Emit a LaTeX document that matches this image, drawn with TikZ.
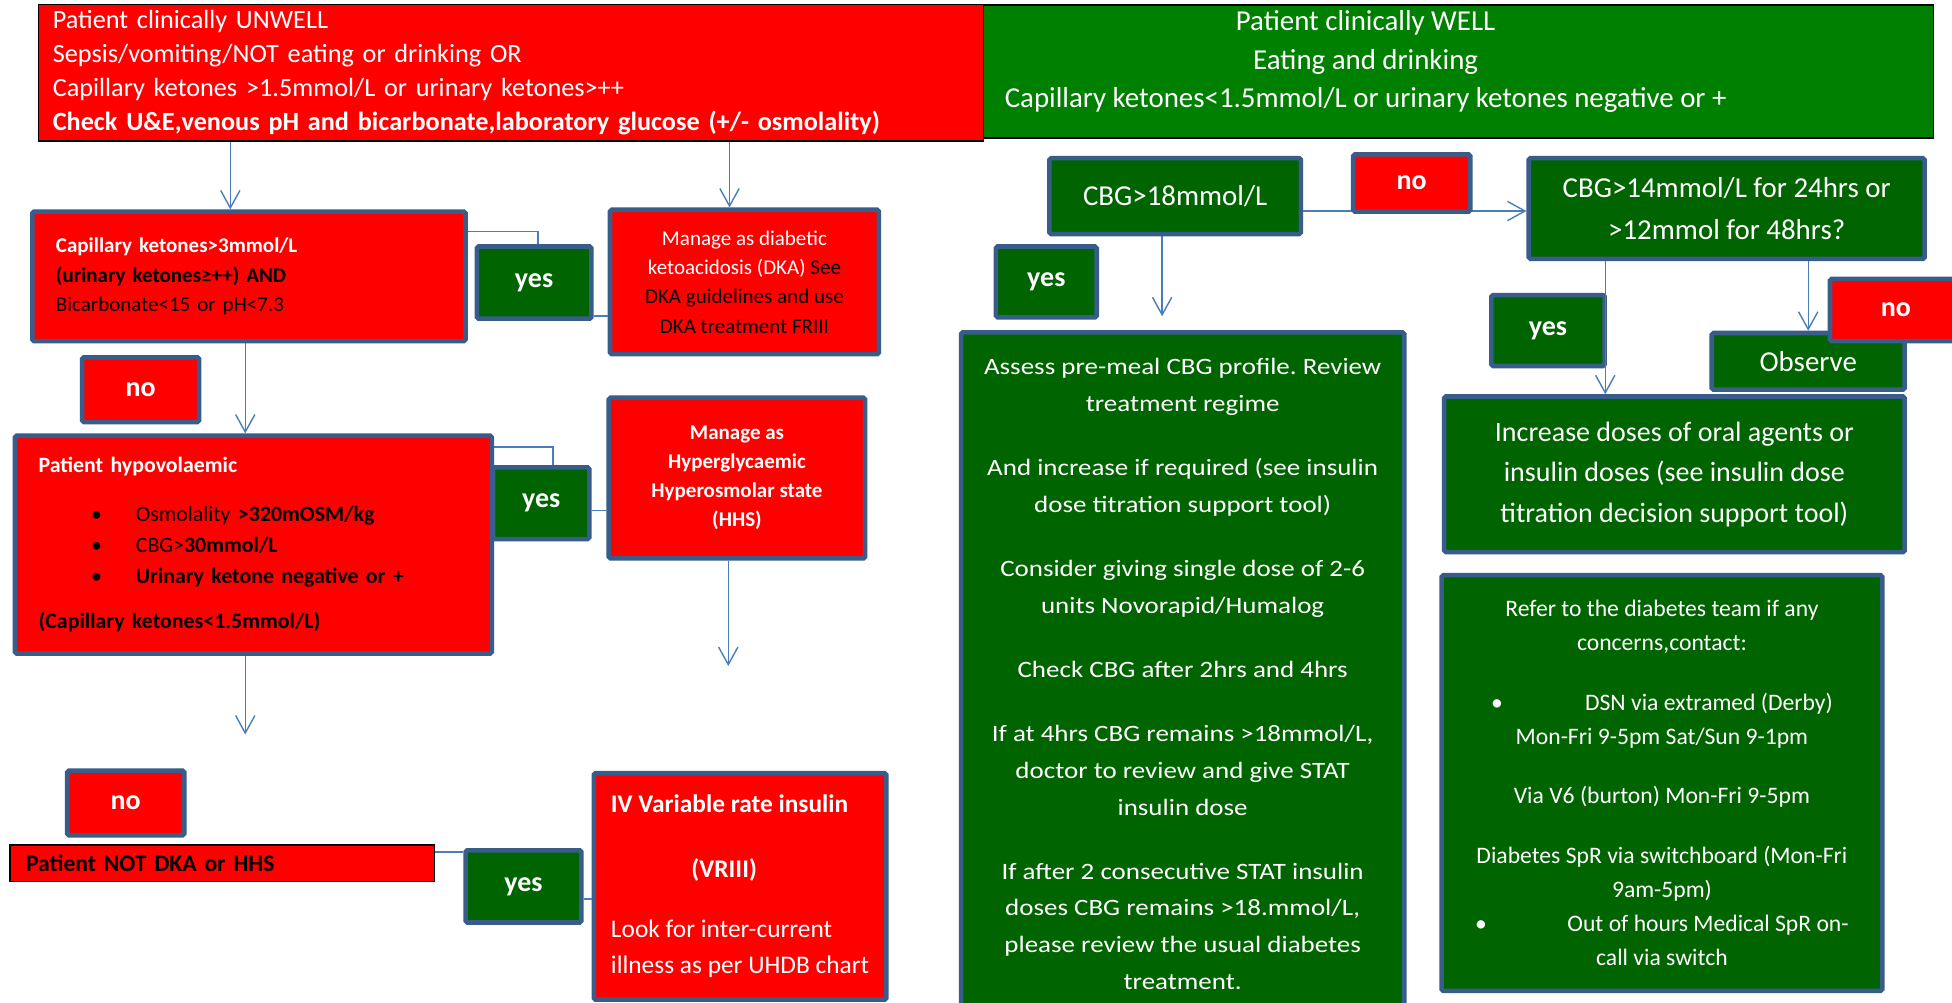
\documentclass[tikz,border=0pt]{standalone}
\usepackage{fontspec}
\setmainfont{Carlito}
\newfontfamily\widefont[FakeStretch=1.15]{Carlito}
\usetikzlibrary{arrows.meta}
\frenchspacing

\definecolor{boxblue}{RGB}{56,93,138}
\definecolor{linkblue}{RGB}{74,126,187}
\definecolor{boxgreen}{RGB}{0,100,0}
\definecolor{topgreen}{RGB}{0,128,0}

\newcommand{\bulitem}{\hspace*{30pt}\makebox[25.6pt][l]{\textbullet}}

\tikzset{
    sz/.style 2 args={minimum width=#1*0.025cm, minimum height=#2*0.025cm},
    redbox/.style={draw=boxblue, line width=2.6pt, fill=red, rounded corners=1pt, text=white, align=center},
    greenbox/.style={redbox, fill=boxgreen},
    answer/.style={font=\bfseries\fontsize{16}{19}\selectfont},
    link/.style={draw=linkblue, line width=0.8pt},
    arr/.style={link, -{Straight Barb[length=10pt, width=11pt]}}
}

\begin{document}
\begin{tikzpicture}[x=0.025cm, y=-0.025cm]
    \path[fill=white, use as bounding box] (0,0) rectangle (1568,805);

    % Top rows
    \node[draw=black, line width=0.8pt, fill=red, text=white, sz={759}{107}, inner xsep=0.2875cm, text width=18.4cm, align=left, font=\fontsize{15}{19.4}\selectfont] (unwell) at (410.5,58.5) {Patient clinically UNWELL\\ Sepsis/vomiting/NOT eating or drinking OR\\ Capillary ketones >1.5mmol/L or urinary ketones>++\\ \textbf{Check U\&E,venous pH and bicarbonate,laboratory glucose (+/- osmolality)}};
    \node[draw=black, line width=0.8pt, fill=topgreen, sz={763}{107}] (well) at (1171.5,57.5) {};
    \node[text=white, align=center, font=\fontsize{16.5}{22}\selectfont] (welltext) at (1097,49.5) {Patient clinically WELL\\ Eating and drinking\\ Capillary ketones<1.5mmol/L or urinary ketones negative or +};

    % Unwell side
    \node[redbox, sz={348}{104}, inner xsep=0.475cm, text width=7.75cm, align=left, font=\fontsize{12}{17}\selectfont] (ketbox) at (200,222) {\textbf{Capillary ketones>3mmol/L}\\ \textcolor{black}{\textbf{(urinary ketones≥++) AND}}\\ \textcolor{black}{Bicarbonate<15 or pH<7.3}};
    \node[redbox, sz={216}{116}, text=black, font=\fontsize{12}{16.8}\selectfont] (dka) at (598,226.5) {\textcolor{white}{Manage as diabetic}\\ \textcolor{white}{ketoacidosis (DKA)} See\\ DKA guidelines and use\\ DKA treatment FRIII};
    \node[greenbox, answer, sz={92}{58}] (yes1) at (429,227) {yes};
    \node[redbox, answer, sz={94}{52}] (no1) at (113,313) {no};
    \node[redbox, sz={383}{175}, inner xsep=0.475cm, text width=8.625cm, align=left, text=black, font=\fontsize{12.5}{17.8}\selectfont] (hypo) at (203.5,437.5) {\textcolor{white}{\textbf{Patient hypovolaemic}}\\[10pt]
        \bulitem Osmolality \textbf{>320mOSM/kg}\\
        \bulitem CBG>\textbf{30mmol/L}\\
        \bulitem\textbf{Urinary ketone negative or +}\\[8pt]
        \textbf{(Capillary ketones<1.5mmol/L)}};
    \node[greenbox, answer, sz={77.5}{57.5}] (yes2) at (434.75,404.25) {yes};
    \node[redbox, sz={206}{129}, font=\bfseries\fontsize{12}{16.6}\selectfont] (hhs) at (592,384) {Manage as\\ Hyperglycaemic\\ Hyperosmolar state\\ (HHS)};
    \node[redbox, answer, sz={94}{52}] (no2) at (101,645) {no};
    \node[draw=black, line width=1pt, fill=red, sz={341}{29}, inner xsep=0.325cm, text width=7.875cm, align=left, font=\bfseries\fontsize{13.5}{16}\selectfont] (notdka) at (178.5,693.5) {Patient NOT DKA or HHS};
    \node[greenbox, answer, sz={93}{58}] (yes3) at (420.5,712) {yes};
    \node[redbox, sz={235}{182}, align=left, font=\fontsize{14.5}{20.4}\selectfont] (ivrate) at (594.5,712) {\textbf{IV Variable rate insulin}\\[16.6pt] \hspace*{46pt}\textbf{(VRIII)}\\[14pt] Look for inter-current\\ illness as per UHDB chart};

    % Well side
    \node[greenbox, sz={202}{61}, font=\fontsize{16.5}{23.5}\selectfont] (cbg18) at (944,157.5) {CBG>18mmol/L};
    \node[greenbox, sz={318}{81}, font=\fontsize{16.5}{23.5}\selectfont] (cbg14) at (1387,167.5) {CBG>14mmol/L for 24hrs or\\ >12mmol for 48hrs?};
    \draw[arr] ([yshift=-0.3cm]cbg18.east) -- ([yshift=-0.3cm]cbg18.east -| cbg14.west);
    \node[redbox, answer, sz={94}{46}] (no3) at (1134,147) {no};
    \node[greenbox, answer, sz={81}{57}] (yes4) at (840.5,226.5) {yes};
    \node[greenbox, sz={356}{549}, font=\widefont\fontsize{13.4}{21}\selectfont] (assess) at (950,541.5) {Assess pre-meal CBG profile. Review\\ treatment regime\\[15.6pt]
        And increase if required (see insulin\\ dose titration support tool)\\[15.6pt]
        Consider giving single dose of 2-6\\ units Novorapid/Humalog\\[15.6pt]
        Check CBG after 2hrs and 4hrs\\[15.6pt]
        If at 4hrs CBG remains >18mmol/L,\\ doctor to review and give STAT\\ insulin dose\\[15.6pt]
        If after 2 consecutive STAT insulin\\ doses CBG remains >18.mmol/L,\\ please review the usual diabetes\\ treatment.};
    \node[greenbox, answer, sz={91}{57}] (yes5) at (1243.5,265.5) {yes};
    \node[greenbox, sz={155}{45.5}, font=\fontsize{16.5}{20}\selectfont] (observe) at (1452.5,290.25) {Observe};
    \node[redbox, answer, sz={106}{50}] (no4) at (1523,249) {no};
    \node[greenbox, sz={370}{125}, font=\fontsize{16}{23}\selectfont] (increase) at (1345,381) {Increase doses of oral agents or\\ insulin doses (see insulin dose\\ titration decision support tool)};
    \node[greenbox, sz={354}{334}, font=\fontsize{13.5}{19.5}\selectfont] (refer) at (1335,629) {Refer to the diabetes team if any\\ concerns,contact:\\[14.4pt]
        \textbullet\hspace{47pt}DSN via extramed (Derby)\\ Mon-Fri 9-5pm Sat/Sun 9-1pm\\[14.4pt]
        Via V6 (burton) Mon-Fri 9-5pm\\[14.4pt]
        Diabetes SpR via switchboard (Mon-Fri\\ 9am-5pm)\\
        \textbullet\hspace{46pt}Out of hours Medical SpR on-\\ call via switch};

    % Links
    \draw[arr] ([xshift=-0.375cm]ketbox.north |- unwell.south) -- ([xshift=-0.375cm]ketbox.north);
    \draw[arr] ([xshift=-0.3cm]dka.north |- unwell.south) -- ([xshift=-0.3cm]dka.north);
    \draw[link] ([yshift=-0.45cm]ketbox.north east) -| ([xshift=0.075cm]yes1.north);
    \draw[link] ([yshift=0.1cm]yes1.south east) -- ([yshift=0.1cm]yes1.south east -| dka.west);
    \draw[arr] ([xshift=-0.075cm]ketbox.south) -- ([xshift=-0.075cm]ketbox.south |- hypo.north);
    \draw[link] ([yshift=-0.27cm]hypo.north east) -| ([xshift=0.24cm]yes2.north);
    \draw[link] ([yshift=-0.15cm]yes2.east) -- ([yshift=-0.15cm]yes2.east -| hhs.west);
    \coordinate (hhsend) at (585,535);
    \draw[arr] (hhsend |- hhs.south) -- (hhsend);
    \coordinate (hypoend) at (197,590);
    \draw[arr] (hypoend |- hypo.south) -- (hypoend);
    \draw[link] ([yshift=-0.15cm]notdka.north east) -- ([yshift=-0.15cm]notdka.north east -| yes3.west);
    \draw[link] ([yshift=-0.25cm]yes3.east) -- ([yshift=-0.25cm]yes3.east -| ivrate.west);
    \coordinate (assessend) at (933.5,254);
    \draw[arr] (assessend |- cbg18.south) -- (assessend);
    \draw[arr] ([xshift=-2.4375cm]cbg14.south) -- ([xshift=-2.4375cm]cbg14.south |- increase.north);
    \draw[arr] (observe.north |- cbg14.south) -- (observe.north);
\end{tikzpicture}
\end{document}
